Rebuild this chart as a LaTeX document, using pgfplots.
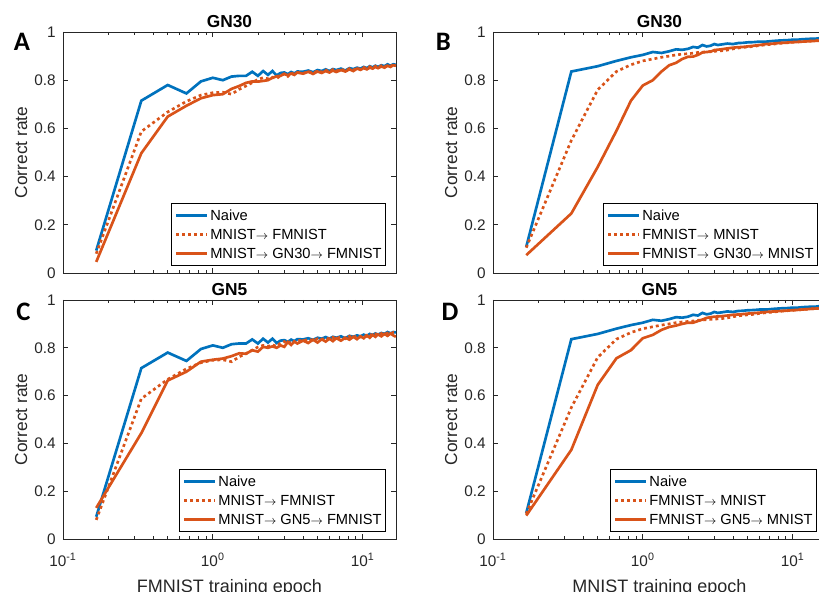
\documentclass[border=0pt]{standalone}
\usepackage{fontspec}
\setmainfont{Liberation Sans}
\newfontfamily\calibri{Carlito}
\usepackage{pgfplots}
\usepackage{pgfplotstable}
\pgfplotsset{compat=1.18}
\definecolor{mblue}{HTML}{0072BD}
\definecolor{morange}{HTML}{D95319}
\definecolor{axgray}{HTML}{262626}
\newcommand\arr{{\fontsize{9}{9}\selectfont$\rightarrow$}}

% FMNIST runs (panels A, C); column k = sixth of an epoch
\pgfplotstableread{
k v
1 0.093
2 0.715
3 0.780
4 0.745
5 0.795
6 0.810
7 0.800
8 0.815
9 0.818
10 0.818
11 0.835
12 0.818
13 0.838
14 0.822
15 0.838
16 0.820
17 0.830
18 0.832
19 0.825
20 0.834
21 0.828
22 0.836
24 0.835
26 0.840
28 0.833
30 0.842
32 0.838
34 0.845
36 0.838
38 0.846
40 0.842
43 0.848
46 0.840
49 0.850
52 0.846
55 0.852
58 0.848
61 0.855
64 0.850
67 0.858
70 0.853
73 0.860
76 0.855
80 0.862
84 0.858
88 0.866
92 0.860
96 0.866
100 0.864
}\naiveF
\pgfplotstableread{
k v
1 0.080
2 0.587
3 0.668
4 0.712
5 0.738
6 0.748
7 0.750
8 0.742
9 0.762
10 0.776
11 0.790
12 0.803
13 0.810
14 0.806
15 0.812
16 0.806
17 0.820
18 0.826
19 0.816
20 0.830
21 0.825
22 0.832
24 0.828
26 0.836
28 0.830
30 0.838
32 0.834
34 0.842
36 0.835
38 0.844
40 0.838
43 0.846
46 0.838
49 0.848
52 0.842
55 0.850
58 0.845
61 0.853
64 0.848
67 0.856
70 0.850
73 0.858
76 0.852
80 0.860
84 0.855
88 0.862
92 0.858
96 0.864
100 0.860
}\directF
\pgfplotstableread{
k v
1 0.046
2 0.497
3 0.649
4 0.694
5 0.725
6 0.738
7 0.742
8 0.764
9 0.776
10 0.789
11 0.795
12 0.794
13 0.797
14 0.800
15 0.810
16 0.816
17 0.818
18 0.826
19 0.820
20 0.828
21 0.822
22 0.832
24 0.827
26 0.835
28 0.826
30 0.836
32 0.830
34 0.838
36 0.832
38 0.840
40 0.834
43 0.842
46 0.836
49 0.845
52 0.838
55 0.848
58 0.843
61 0.850
64 0.845
67 0.852
70 0.848
73 0.855
76 0.850
80 0.857
84 0.852
88 0.860
92 0.855
96 0.862
100 0.860
}\gnthirtyF
\pgfplotstableread{
k v
1 0.130
2 0.443
3 0.663
4 0.700
5 0.742
6 0.750
7 0.755
8 0.765
9 0.777
10 0.775
11 0.790
12 0.784
13 0.804
14 0.800
15 0.806
16 0.800
17 0.810
18 0.804
19 0.824
20 0.812
21 0.826
22 0.818
24 0.830
26 0.820
28 0.834
30 0.822
32 0.836
34 0.826
36 0.838
38 0.828
40 0.840
43 0.830
46 0.842
49 0.834
52 0.846
55 0.836
58 0.848
61 0.840
64 0.852
67 0.842
70 0.854
73 0.846
76 0.856
80 0.848
84 0.858
88 0.850
92 0.860
96 0.852
100 0.846
}\gnfiveF

% MNIST runs (panels B, D)
\pgfplotstableread{
k v
1 0.108
2 0.836
3 0.858
4 0.880
5 0.895
6 0.905
7 0.917
8 0.913
9 0.920
10 0.928
11 0.926
12 0.930
13 0.938
14 0.935
15 0.946
16 0.940
17 0.943
18 0.950
19 0.946
20 0.948
22 0.952
24 0.950
26 0.954
28 0.955
30 0.957
33 0.958
36 0.960
40 0.960
45 0.963
50 0.965
55 0.966
60 0.968
65 0.968
70 0.970
75 0.971
80 0.972
85 0.972
90 0.974
95 0.975
100 0.975
}\naiveM
\pgfplotstableread{
k v
1 0.105
2 0.550
3 0.760
4 0.836
5 0.864
6 0.880
7 0.888
8 0.895
9 0.900
10 0.905
11 0.908
12 0.910
13 0.912
14 0.915
15 0.916
16 0.918
18 0.920
20 0.922
22 0.925
24 0.930
27 0.935
30 0.938
33 0.940
36 0.944
40 0.947
45 0.950
50 0.953
55 0.955
60 0.957
70 0.960
80 0.963
90 0.965
100 0.967
}\directM
\pgfplotstableread{
k v
1 0.074
2 0.247
3 0.440
4 0.590
5 0.715
6 0.778
7 0.800
8 0.836
9 0.862
10 0.872
11 0.888
12 0.897
13 0.898
14 0.905
15 0.915
16 0.917
17 0.918
18 0.925
20 0.928
22 0.932
24 0.935
26 0.937
28 0.938
30 0.940
33 0.943
36 0.946
40 0.950
45 0.952
50 0.955
55 0.956
60 0.958
70 0.960
80 0.962
90 0.964
100 0.966
}\gnthirtyM
\pgfplotstableread{
k v
1 0.098
2 0.373
3 0.645
4 0.756
5 0.790
6 0.840
7 0.854
8 0.875
9 0.887
10 0.893
11 0.900
12 0.905
13 0.905
14 0.912
15 0.918
16 0.925
17 0.928
18 0.930
20 0.932
22 0.935
24 0.938
27 0.940
30 0.943
33 0.945
36 0.947
40 0.950
45 0.952
50 0.954
60 0.957
70 0.960
80 0.963
90 0.965
100 0.967
}\gnfiveM

\pgfplotsset{
  panel/.style={
    scale only axis, width=249.75pt, height=180.75pt,
    xmin=0.1, xmax=16.7, ymin=0, ymax=1,
    xtick={0.1,1,10},
    xticklabels={10\textsuperscript{-1},10\textsuperscript{0},10\textsuperscript{1}},
    ytick={0,0.2,0.4,0.6,0.8,1},
    yticklabels={0,0.2,0.4,0.6,0.8,1},
    tick align=inside, major tick length=4pt, minor tick length=2.5pt,
    axis line style={axgray, line width=0.7pt},
    every tick/.style={axgray, line width=0.6pt},
    tick label style={font=\fontsize{11.5}{13}\selectfont, text=axgray},
    yticklabel style={xshift=-2pt},
    xticklabel style={yshift=-7pt},
    title style={font=\fontsize{13}{15}\selectfont\bfseries, at={(axis description cs:0.5,1)}, anchor=base, inner sep=0pt, yshift=-2.5pt},
    xlabel style={font=\fontsize{13.5}{15}\selectfont, text=axgray, at={(axis description cs:0.5,0)}, anchor=north, inner sep=0pt, yshift=-30pt},
    ylabel style={font=\fontsize{13}{15}\selectfont, text=axgray, at={(axis description cs:-0.145,0.5)}, anchor=north, inner sep=0pt},
    ylabel={Correct rate},
    legend cell align=left,
    legend style={anchor=south east, draw=black, line width=0.6pt, fill=white,
      font=\fontsize{11}{13}\selectfont, inner xsep=3pt, inner ysep=3pt, row sep=2.25pt,
      nodes={inner sep=0pt, text height=10pt, text depth=2pt}},
    legend image code/.code={\draw[#1] (0pt,0pt) -- (23pt,0pt); \path (24.5pt,0pt);},
  },
  toprow/.style={xticklabels={}},
  naive/.style={mblue, line width=2pt},
  direct/.style={morange, line width=2pt, dash pattern=on 2.2pt off 2.3pt},
  chain/.style={morange, line width=2pt},
}

\begin{document}
\begin{tikzpicture}
\begin{semilogxaxis}[panel, toprow, at={(47.25pt,239.25pt)}, anchor=south west, title={GN30},
  legend style={at={(0.97,0.029)}}]
\addplot[naive] table[x expr=\thisrow{k}/6, y=v] {\naiveF};
\addplot[direct] table[x expr=\thisrow{k}/6, y=v] {\directF};
\addplot[chain] table[x expr=\thisrow{k}/6, y=v] {\gnthirtyF};
\legend{Naive, MNIST\arr{} FMNIST, MNIST\arr{} GN30\arr{} FMNIST}
\end{semilogxaxis}

\begin{semilogxaxis}[panel, toprow, at={(369.75pt,239.25pt)}, anchor=south west, title={GN30},
  legend style={at={(0.976,0.029)}}]
\addplot[naive] table[x expr=\thisrow{k}/6, y=v] {\naiveM};
\addplot[direct] table[x expr=\thisrow{k}/6, y=v] {\directM};
\addplot[chain] table[x expr=\thisrow{k}/6, y=v] {\gnthirtyM};
\legend{Naive, FMNIST\arr{} MNIST, FMNIST\arr{} GN30\arr{} MNIST}
\end{semilogxaxis}

\begin{semilogxaxis}[panel, at={(47.25pt,39.75pt)}, anchor=south west, height=179.25pt, title={GN5},
  xlabel={FMNIST training epoch}, legend style={at={(0.97,0.029)}}]
\addplot[naive] table[x expr=\thisrow{k}/6, y=v] {\naiveF};
\addplot[direct] table[x expr=\thisrow{k}/6, y=v] {\directF};
\addplot[chain] table[x expr=\thisrow{k}/6, y=v] {\gnfiveF};
\legend{Naive, MNIST\arr{} FMNIST, MNIST\arr{} GN5\arr{} FMNIST}
\end{semilogxaxis}

\begin{semilogxaxis}[panel, at={(369.75pt,39.75pt)}, anchor=south west, height=179.25pt, title={GN5},
  xlabel={MNIST training epoch}, legend style={at={(0.973,0.029)}}]
\addplot[naive] table[x expr=\thisrow{k}/6, y=v] {\naiveM};
\addplot[direct] table[x expr=\thisrow{k}/6, y=v] {\directM};
\addplot[chain] table[x expr=\thisrow{k}/6, y=v] {\gnfiveM};
\legend{Naive, FMNIST\arr{} MNIST, FMNIST\arr{} GN5\arr{} MNIST}
\end{semilogxaxis}

\node[font=\calibri\bfseries\fontsize{20}{20}\selectfont, inner sep=0pt] at (16.5pt,412.9pt) {A};
\node[font=\calibri\bfseries\fontsize{20}{20}\selectfont, inner sep=0pt] at (332.6pt,412.9pt) {B};
\node[font=\calibri\bfseries\fontsize{20}{20}\selectfont, inner sep=0pt] at (17.6pt,210.4pt) {C};
\node[font=\calibri\bfseries\fontsize{20}{20}\selectfont, inner sep=0pt] at (337.5pt,210.4pt) {D};

\pgfresetboundingbox
\useasboundingbox (0pt,0pt) rectangle (614.25pt,444pt);
\end{tikzpicture}
\end{document}
